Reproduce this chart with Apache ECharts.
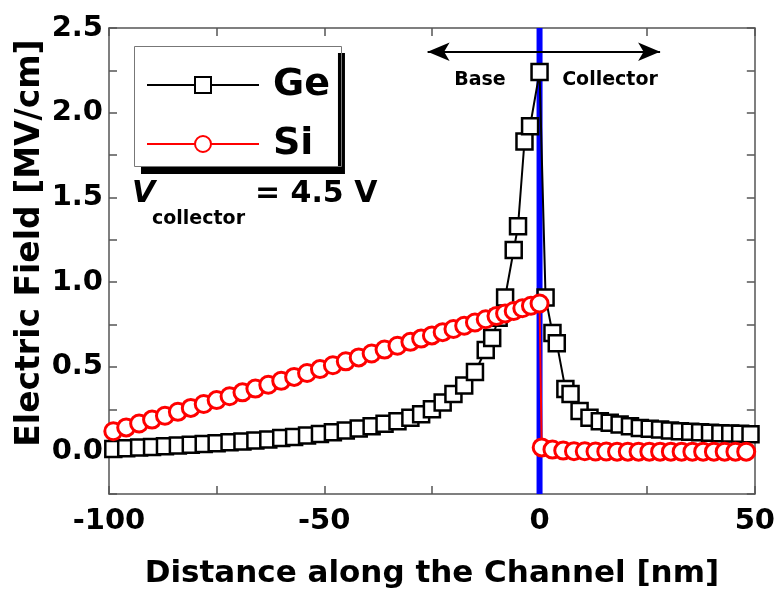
<!DOCTYPE html>
<html>
<head>
<meta charset="utf-8">
<script src="https://cdn.jsdelivr.net/npm/echarts@6/dist/echarts.min.js"></script>
<style>
  html, body { margin: 0; padding: 0; background: #fff; }
  #main { width: 778px; height: 596px; }
</style>
</head>
<body>
<div id="main"></div>
<script>
// data
var geX = [-99, -96, -93, -90, -87, -84, -81, -78, -75, -72, -69, -66, -63, -60, -57, -54, -51, -48, -45, -42, -39, -36, -33, -30,
  -27.5, -25, -22.5, -20, -17.5, -15, -12.5, -11, -9.5, -8, -6, -5, -3.5, -2.2, 0,
  1.4, 3, 4, 6, 7.2, 9.3, 11.6, 14, 16.3, 18.6, 21, 23.3, 25.6, 28, 30.3, 32.6, 35, 37.3, 39.6, 42, 44.3, 46.6, 49];
var geY = [0.015, 0.02, 0.024, 0.028, 0.032, 0.036, 0.04, 0.045, 0.05, 0.055, 0.06, 0.066, 0.072, 0.08, 0.087, 0.095, 0.104, 0.114, 0.125, 0.137, 0.15, 0.165, 0.18, 0.2,
  0.22, 0.25, 0.29, 0.34, 0.39, 0.47, 0.6, 0.67, 0.79, 0.91, 1.19, 1.33, 1.83, 1.92, 2.24,
  0.91, 0.70, 0.64, 0.37, 0.34, 0.24, 0.2, 0.18, 0.17, 0.16, 0.15, 0.14, 0.135, 0.13, 0.125, 0.12, 0.117, 0.114, 0.111, 0.109, 0.107, 0.105, 0.103];

var siX = [-99, -96, -93, -90, -87, -84, -81, -78, -75, -72, -69, -66, -63, -60, -57, -54, -51, -48, -45, -42, -39, -36, -33, -30,
  -27.5, -25, -22.5, -20, -17.5, -15, -12.5, -10, -8, -6, -4, -2, 0,
  0.5, 3, 5.5, 8, 10.5, 13, 15.5, 18, 20.5, 23, 25.5, 28, 30.5, 33, 35.5, 38, 40.5, 43, 45.5, 48];
var siY = [0.12, 0.143, 0.166, 0.189, 0.212, 0.235, 0.258, 0.281, 0.304, 0.327, 0.35, 0.372, 0.395, 0.418, 0.441, 0.464, 0.487, 0.51, 0.533, 0.556, 0.579, 0.602, 0.625, 0.648,
  0.667, 0.686, 0.705, 0.724, 0.743, 0.762, 0.781, 0.8, 0.815, 0.83, 0.846, 0.861, 0.874,
  0.025, 0.012, 0.006, 0.003, 0.002, 0.001, 0.001, 0, 0, 0, 0, 0, 0, 0, 0, 0, 0, 0, 0, 0];

// junction (blue line) and the Base/Collector arrow
var junctionX = [0, 0];
var junctionY = [-0.25, 2.5];
var arrowX = [-26, 28];
var arrowY = 2.36;

var xTicks = { min: -100, max: 50, step: 25 };
var yTicks = { min: -0.25, max: 2.5, step: 0.25 };

var FONT = 'DejaVu Sans';

function pairs(xs, ys) {
  return xs.map(function (x, i) { return [x, ys[i]]; });
}

var chart = echarts.init(document.getElementById('main'), null, { renderer: 'canvas' });

var axisLine = { show: true, onZero: false, lineStyle: { color: '#555', width: 1.5 } };
var axisTick = { show: true, inside: true, length: 8, lineStyle: { color: '#555', width: 1.5 } };

var option = {
  backgroundColor: '#fff',
  animation: false,
  grid: { left: 109, right: 20, top: 28, bottom: 102, containLabel: false },
  xAxis: [{
    type: 'value',
    min: xTicks.min, max: xTicks.max, interval: xTicks.step,
    axisLine: axisLine, axisTick: axisTick, splitLine: { show: false },
    axisLabel: {
      margin: 13,
      color: '#000', fontFamily: FONT, fontWeight: 'bold', fontSize: 29,
      formatter: function (v) { return v % 50 === 0 ? String(v) : ''; }
    },
    name: 'Distance along the Channel [nm]',
    nameLocation: 'middle', nameGap: 64,
    nameTextStyle: { color: '#000', fontFamily: FONT, fontWeight: 'bold', fontSize: 31 }
  }, {
    type: 'value', position: 'top',
    min: xTicks.min, max: xTicks.max, interval: xTicks.step,
    axisLine: axisLine, axisTick: axisTick, splitLine: { show: false },
    axisLabel: { show: false }
  }],
  yAxis: [{
    type: 'value',
    min: yTicks.min, max: yTicks.max, interval: yTicks.step,
    axisLine: axisLine, axisTick: axisTick, splitLine: { show: false },
    axisLabel: {
      margin: 6,
      color: '#000', fontFamily: FONT, fontWeight: 'bold', fontSize: 29,
      formatter: function (v) {
        if (v < 0) return '';
        if (Math.abs(v * 2 - Math.round(v * 2)) > 1e-6) return '';
        return v.toFixed(1);
      }
    }
  }, {
    type: 'value', position: 'right',
    min: yTicks.min, max: yTicks.max, interval: yTicks.step,
    axisLine: axisLine, axisTick: axisTick, splitLine: { show: false },
    axisLabel: { show: false }
  }],
  legend: {
    data: ['Ge', 'Si'],
    orient: 'vertical',
    left: 134, top: 46,
    padding: [17, 8, 1, 12],
    itemWidth: 112, itemHeight: 20, itemGap: 15,
    backgroundColor: '#fff',
    borderWidth: 0,
    shadowColor: '#000', shadowBlur: 0, shadowOffsetX: 7, shadowOffsetY: 7,
    textStyle: { color: '#000', fontFamily: FONT, fontWeight: 'bold', fontSize: 38, lineHeight: 44, padding: [0, 0, 0, 9] }
  },
  graphic: [
    // thin frame of the legend box (the legend's own border would cast a shadow too)
    { type: 'rect', z: 100, silent: true,
      shape: { x: 134.5, y: 46.5, width: 207, height: 120 },
      style: { fill: null, stroke: '#777', lineWidth: 1 } },
    { type: 'text', x: 30, y: 243, rotation: Math.PI / 2,
      style: { text: 'Electric Field [MV/cm]', font: 'bold 33px "DejaVu Sans"', fill: '#000', textAlign: 'center', textVerticalAlign: 'middle' } },
    { type: 'text', x: 132, y: 194,
      style: { text: 'V', font: 'italic bold 30px "DejaVu Sans"', fill: '#000', textAlign: 'left', textVerticalAlign: 'middle' } },
    { type: 'text', x: 152, y: 219,
      style: { text: 'collector', font: 'bold 19px "DejaVu Sans"', fill: '#000', textAlign: 'left', textVerticalAlign: 'middle' } },
    { type: 'text', x: 255, y: 194,
      style: { text: '= 4.5 V', font: 'bold 30px "DejaVu Sans"', fill: '#000', textAlign: 'left', textVerticalAlign: 'middle' } },
    { type: 'text', x: 480, y: 80,
      style: { text: 'Base', font: 'bold 19px "DejaVu Sans"', fill: '#000', textAlign: 'center', textVerticalAlign: 'middle' } },
    { type: 'text', x: 610, y: 80,
      style: { text: 'Collector', font: 'bold 19px "DejaVu Sans"', fill: '#000', textAlign: 'center', textVerticalAlign: 'middle' } }
  ],
  series: [{
    name: 'junction',
    type: 'line',
    data: pairs(junctionX, junctionY),
    symbol: 'none',
    silent: true,
    lineStyle: { color: '#0000ff', width: 6 },
    markLine: {
      silent: true,
      symbol: ['arrow', 'arrow'],
      symbolSize: [14, 22],
      label: { show: false },
      lineStyle: { color: '#000', width: 2, type: 'solid' },
      data: [[{ coord: [arrowX[0], arrowY] }, { coord: [arrowX[1], arrowY] }]]
    }
  }, {
    name: 'Ge',
    type: 'line',
    data: pairs(geX, geY),
    symbol: 'rect',
    symbolSize: 16,
    lineStyle: { color: '#000', width: 2 },
    itemStyle: { color: '#fff', borderColor: '#000', borderWidth: 2.5 }
  }, {
    name: 'Si',
    type: 'line',
    data: pairs(siX, siY),
    symbol: 'circle',
    symbolSize: 17,
    lineStyle: { color: '#ff0000', width: 2 },
    itemStyle: { color: '#fff', borderColor: '#ff0000', borderWidth: 3 }
  }]
};

chart.setOption(option);
</script>
</body>
</html>
